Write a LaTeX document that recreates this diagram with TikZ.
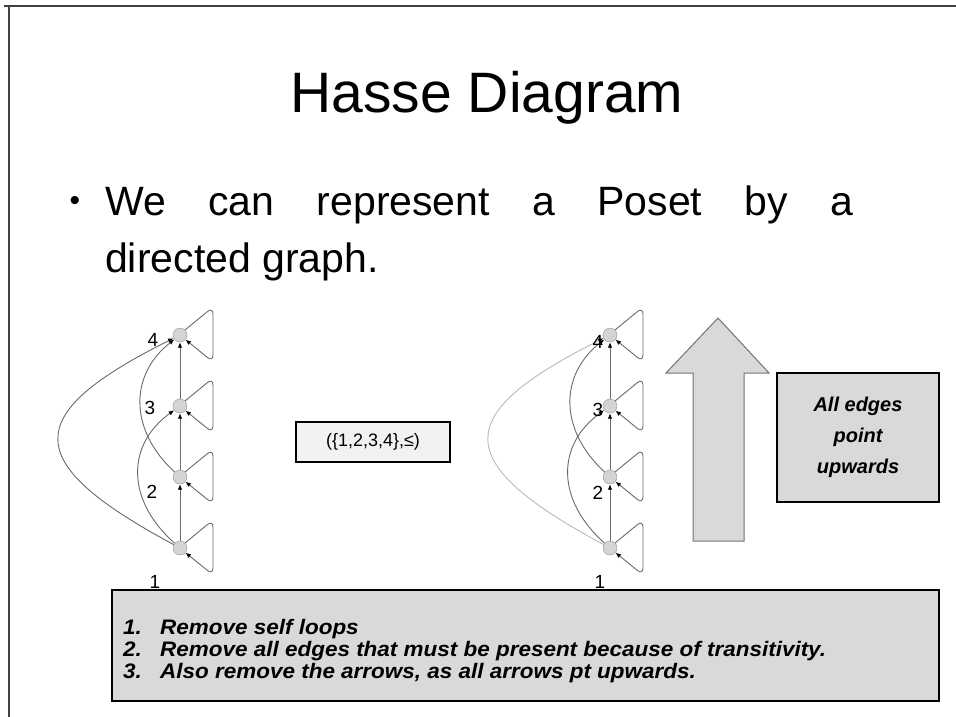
\documentclass[tikz,border=0pt]{standalone}
\usepackage{fontspec}
\setmainfont{Liberation Sans}
\newfontfamily\listfont[FakeStretch=1.07]{Liberation Sans}
\usetikzlibrary{arrows.meta,calc}
\definecolor{boxgray}{HTML}{D9D9D9}
\definecolor{lightbox}{HTML}{F2F2F2}
\definecolor{vtxfill}{HTML}{D4D4D4}
\definecolor{edgegray}{HTML}{6A6A6A}
\tikzset{
  vtx/.style={circle, minimum size=14pt, inner sep=0pt, fill=vtxfill, draw=gray!85},
  edge/.style={draw=edgegray, line width=0.9pt, -{Latex[length=5.5pt,width=4.5pt,color=black]}},
  lbl/.style={font=\fontsize{19}{20}\selectfont, inner sep=0pt},
  listtxt/.style={font=\listfont\bfseries\itshape\fontsize{21}{22}\selectfont, anchor=base west, inner sep=0pt},
}
\newcommand\drawposet[2]{%
  \node[vtx] (#1a) at (#2,548) {};
  \node[vtx] (#1b) at (#2,477) {};
  \node[vtx] (#1c) at (#2,406) {};
  \node[vtx] (#1d) at (#2,335) {};
  \draw[edge] (#1a) -- (#1b);
  \draw[edge] (#1b) -- (#1c);
  \draw[edge] (#1c) -- (#1d);
  \draw[edge] (#1a) .. controls ($(#1a)+(-54,-48)$) and ($(#1c)+(-54,39)$) .. (#1c);
  \draw[edge] (#1b) .. controls ($(#1b)+(-51,-47)$) and ($(#1d)+(-51,40)$) .. (#1d);
  \foreach \v in {a,b,c,d}{
    \draw[edge, rounded corners=7pt] (#1\v.45) -- ($(#1\v)+(33,-28)$) -- ($(#1\v)+(33,27)$) -- (#1\v.-40);
  }
}
\begin{document}
\begin{tikzpicture}[x=1pt,y=-1pt]
\useasboundingbox (0,0) rectangle (956,717);
% slide frame
\draw[line width=2pt, black!75] (4,6) -- (956,6);
\draw[line width=2pt, black!75] (9,5) -- (9,717);

% title and bullet text
\node[font=\fontsize{57}{60}\selectfont, anchor=base, inner sep=0pt] (title) at (487,112) {Hasse Diagram};
\node[font=\fontsize{30}{30}\selectfont, anchor=base, inner sep=0pt] (bullet) at (75,210) {•};
\node[font=\fontsize{41}{57}\selectfont, anchor=base west, inner sep=0pt] (line1) at (105,215)
  {\makebox[748pt][s]{We can represent a Poset by a}};
\node[font=\fontsize{41}{57}\selectfont, anchor=base west, inner sep=0pt] (line2) at (105,272) {directed graph.};

% left graph
\drawposet{L}{180}
\draw[edge] (La) .. controls ($(La)+(-160,-86)$) and ($(Ld)+(-160,80)$) .. (Ld);
\node[lbl] (L4) at (153,340) {4};
\node[lbl] (L3) at (150,408) {3};
\node[lbl] (L2) at (152,492) {2};
\node[lbl] (L1) at (155,582) {1};

% right graph
\drawposet{R}{610}
\draw[edge, draw=gray!55] (Ra) .. controls ($(Ra)+(-160,-86)$) and ($(Rd)+(-160,80)$) .. (Rd);
\node[lbl] (R4) at (598,342) {4};
\node[lbl] (R3) at (598,410) {3};
\node[lbl] (R2) at (598,493) {2};
\node[lbl] (R1) at (600,582) {1};

% poset label
\node[draw=black, line width=1.2pt, fill=lightbox, minimum width=154pt, minimum height=40pt,
      font=\fontsize{18}{20}\selectfont] (poset) at (373,442) {(\{1,2,3,4\},≤)};

% big up arrow
\filldraw[fill=boxgray, draw=gray!90!black, line width=1pt]
  (718,318) -- (769,373) -- (744,373) -- (744,541) -- (693,541) -- (693,373) -- (666,373) -- cycle;

% side box
\node[draw=black, line width=1.3pt, fill=boxgray, minimum width=162pt, minimum height=129pt,
      align=center, font=\bfseries\itshape\fontsize{20}{31}\selectfont] (side) at (858,437.5)
  {All edges\\point\\upwards};

% bottom box
\node[draw=black, line width=2pt, fill=boxgray, minimum width=827pt, minimum height=111pt] (rules) at (525.5,645.5) {};
\node[listtxt] (n1) at (123,634) {1.};
\node[listtxt] (t1) at (160,634) {Remove self loops};
\node[listtxt] (n2) at (123,656) {2.};
\node[listtxt] (t2) at (160,656) {Remove all edges that must be present because of transitivity.};
\node[listtxt] (n3) at (123,678) {3.};
\node[listtxt] (t3) at (160,678) {Also remove the arrows, as all arrows pt upwards.};
\end{tikzpicture}
\end{document}
